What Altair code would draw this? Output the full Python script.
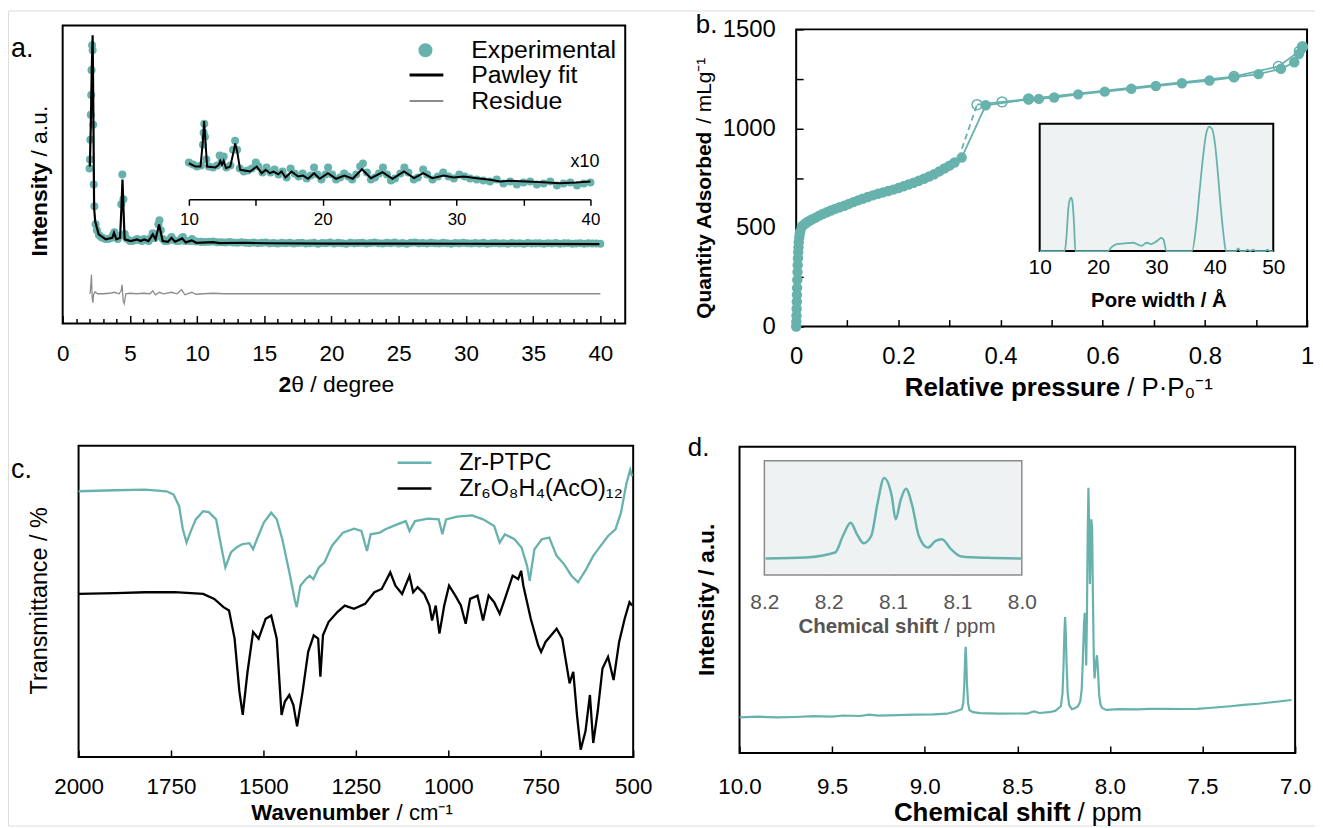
import altair as alt
import pandas as pd

FONT = "Liberation Sans"
TEAL = "#67b2ac"
W, H = 1315, 820

# ---------------- data ----------------
# a. XRD: Pawley fit
xrd_fit_tth = [2.02, 2.10, 2.16, 2.23, 2.29, 2.34, 2.42, 2.68, 3.21, 3.69,
               3.82, 4.00, 4.27, 4.37, 4.45, 4.53, 4.61, 5.06, 5.54, 5.80,
               6.06, 6.38, 6.70, 6.91, 7.17, 7.44, 7.83, 8.10, 8.36, 8.89,
               9.16, 9.60, 9.95, 11.19, 11.67, 13.51, 15.0, 20.0, 25.0, 30.0,
               35.0, 39.93]
xrd_fit_int = [78, 123, 173, 210, 123, 36, 23, 9.7, 4.7, 6.3,
               11.3, 4.7, 6.3, 36, 65, 33, 4.7, 3.0, 4.7, 3.0,
               4.7, 3.0, 9.7, 4.7, 19.7, 3.0, 2.3, 6.3, 2.3, 5.7,
               1.7, 3.7, 1.3, 2.0, 1.0, 1.3, 0.8, 0.5, 0.4, 0.3,
               0.2, 0.0]
# a. XRD: experimental points
xrd_exp_tth = [2.00, 2.03, 2.06, 2.09, 2.12, 2.15, 2.19, 2.23, 2.27, 2.31,
               2.36, 2.45, 2.55, 2.70, 2.85, 3.00, 3.20, 3.40, 3.60, 3.75,
               3.85, 3.95, 4.10, 4.25, 4.36, 4.44, 4.52, 4.62, 4.80, 5.00,
               5.20, 5.40, 5.55, 5.70, 5.90, 6.05, 6.20, 6.40, 6.55, 6.70,
               6.85, 7.00, 7.12, 7.20, 7.30, 7.45, 7.60, 7.80, 8.00, 8.10,
               8.25, 8.45, 8.65, 8.85, 8.95, 9.10, 9.30, 9.50, 9.62, 9.75,
               9.95,
               10.3, 10.6, 10.9, 11.2, 11.5, 11.8, 12.1, 12.4, 12.7, 13.0,
               13.3, 13.6, 13.9, 14.2, 14.5, 14.8, 15.1, 15.4, 15.7, 16.0,
               16.3, 16.6, 16.9, 17.2, 17.5, 17.8, 18.1, 18.4, 18.7, 19.0,
               19.3, 19.6, 19.9, 20.2, 20.5, 20.8, 21.1, 21.4, 21.7, 22.0,
               22.3, 22.6, 22.9, 23.2, 23.5, 23.8, 24.1, 24.4, 24.7, 25.0,
               25.3, 25.6, 25.9, 26.2, 26.5, 26.8, 27.1, 27.4, 27.7, 28.0,
               28.3, 28.6, 28.9, 29.2, 29.5, 29.8, 30.1, 30.4, 30.7, 31.0,
               31.3, 31.6, 31.9, 32.2, 32.5, 32.8, 33.1, 33.4, 33.7, 34.0,
               34.3, 34.6, 34.9, 35.2, 35.5, 35.8, 36.1, 36.4, 36.7, 37.0,
               37.3, 37.6, 37.9, 38.2, 38.5, 38.8, 39.1, 39.4, 39.7, 40.0]
xrd_exp_int = [76, 85, 105, 130, 150, 175, 200, 195, 120, 60,
               38, 20, 14, 9, 7, 6, 5, 5, 6, 9,
               12, 7, 5, 8, 40, 70, 45, 10, 5, 3,
               3, 4, 5, 4, 3, 5, 4, 3, 6, 11,
               6, 8, 20, 24, 14, 5, 3, 3, 5, 7,
               4, 3, 3, 6, 7, 3, 3, 3, 5, 3,
               2.5,
               2.2, 2.0, 2.4, 2.6, 1.8, 1.9, 1.6, 2.0, 1.5, 1.4,
               1.8, 1.3, 1.1, 1.5, 0.9, 1.2, 1.5, 0.7, 1.1, 0.6,
               1.2, 0.8, 1.4, 0.5, 1.0, 1.3, 0.6, 0.9, 1.4, 0.4,
               1.1, 0.8, 1.5, 0.6, 1.2, 0.9, 0.4, 1.3, 0.7, 1.0,
               1.4, 0.5, 1.1, 1.6, 0.8, 0.5, 1.2, 0.9, 1.5, 0.6,
               1.0, 0.4, 1.3, 1.6, 0.7, 1.1, 0.5, 1.4, 0.9, 0.6,
               1.2, 0.8, 0.4, 1.1, 0.7, 1.3, 0.9, 0.5, 1.0, 0.6,
               1.2, 0.4, 0.8, 1.1, 0.5, 0.9, 0.3, 1.0, 0.6, 0.8,
               0.4, 1.1, 0.5, 0.7, 0.9, 0.3, 0.8, 0.5, 1.0, 0.4,
               0.7, 0.9, 0.3, 0.6, 0.8, 0.4, 0.7, 0.5, 0.6, 0.4]
# a. XRD: residue (offset)
xrd_res_tth = [2.00, 2.05, 2.10, 2.14, 2.20, 2.25, 2.30, 2.40, 2.60, 3.00,
               3.50, 3.85, 4.20, 4.35, 4.42, 4.50, 4.58, 4.70, 5.00, 5.50,
               6.00, 6.50, 6.70, 6.90, 7.20, 7.50, 8.10, 8.50, 8.85, 8.95,
               9.10, 9.60, 9.90, 10.5, 11.2, 12.0, 20.0, 30.0, 40.0]
xrd_res_int = [-50, -49, -40, -31, -55, -59, -51, -48, -50, -50,
               -49.5, -48.5, -50, -47, -41, -57, -60, -50, -49.5, -50,
               -49.5, -50, -47, -51, -48.5, -50, -48.5, -50, -46, -48,
               -51, -48.5, -50.5, -50, -49.5, -50, -50, -50, -50]
# a. inset (x10): fit
ins_fit_tth = [10.00, 10.49, 10.87, 11.04, 11.14, 11.24, 11.36, 11.98, 12.23, 12.35,
               12.47, 12.60, 12.77, 13.09, 13.34, 13.46, 13.61, 13.83, 14.58, 15.07,
               15.44, 15.74, 16.06, 16.31, 16.68, 16.92, 17.22, 17.67, 18.16, 18.53,
               18.90, 19.35, 19.77, 20.39, 21.00, 21.62, 22.24, 22.93, 23.60, 24.47,
               25.21, 26.07, 26.82, 27.51, 28.18, 29.04, 29.78, 30.53, 31.52, 32.50,
               33.25, 33.99, 35.22, 36.46, 37.70, 38.93, 40.00]
ins_fit_int = [81.3, 78.0, 78.0, 103.0, 123.7, 103.0, 78.0, 77.0, 79.7, 83.7,
               79.7, 83.7, 76.3, 78.0, 93.0, 101.3, 93.0, 74.7, 73.0, 78.0,
               71.3, 74.7, 71.3, 73.0, 70.3, 73.0, 67.0, 73.0, 68.0, 69.0,
               65.7, 71.3, 65.7, 71.3, 65.7, 69.0, 65.7, 75.3, 66.3, 72.3,
               65.7, 73.0, 66.3, 71.3, 66.3, 69.0, 67.0, 68.0, 66.3, 64.7,
               63.0, 63.7, 63.0, 62.3, 61.3, 62.0, 63.0]
# a. inset (x10): experimental
ins_exp_tth = [10.0, 10.3, 10.6, 10.9, 11.05, 11.1, 11.15, 11.2, 11.3, 11.5,
               11.8, 12.1, 12.3, 12.45, 12.6, 12.8, 13.1, 13.3, 13.45, 13.6,
               13.8, 14.1, 14.4, 14.7, 15.0, 15.2, 15.5, 15.8, 16.1, 16.4,
               16.7, 17.0, 17.3, 17.6, 17.9, 18.2, 18.5, 18.8, 19.1, 19.35,
               19.6, 19.9, 20.2, 20.4, 20.7, 21.0, 21.3, 21.6, 21.9, 22.2,
               22.5, 22.8, 23.0, 23.3, 23.6, 23.9, 24.2, 24.5, 24.8, 25.1,
               25.4, 25.8, 26.1, 26.4, 26.8, 27.1, 27.5, 27.8, 28.2, 28.6,
               29.0, 29.4, 29.8, 30.2, 30.6, 31.0, 31.5, 32.0, 32.5, 33.0,
               33.5, 34.0, 34.5, 35.0, 35.5, 36.0, 36.5, 37.0, 37.5, 38.0,
               38.5, 39.0, 39.5, 40.0]
ins_exp_int = [82, 80, 78, 79, 100, 112, 121, 108, 85, 78,
               77, 79, 89, 84, 88, 77, 79, 95, 104, 95,
               76, 73, 74, 76, 82, 78, 72, 77, 72, 75,
               70, 73, 67, 76, 71, 68, 71, 66, 69, 77,
               70, 65, 70, 77, 70, 65, 67, 71, 68, 65,
               70, 78, 81, 72, 65, 67, 71, 77, 70, 64,
               66, 71, 77, 72, 65, 67, 75, 70, 65, 68,
               72, 68, 66, 70, 68, 66, 65, 64, 63, 65,
               61, 63, 60, 62, 63, 60, 61, 63, 59, 61,
               62, 59, 61, 62]
xrd_legend = ["Experimental", "Pawley fit", "Residue"]

# b. N2 isotherm
ads_p = [0.0, 0.0003, 0.0006, 0.0009, 0.0012, 0.0015, 0.0018, 0.0022, 0.0026, 0.003,
         0.0035, 0.004, 0.0045, 0.005, 0.006, 0.007, 0.008, 0.011, 0.014, 0.018,
         0.022, 0.027, 0.032, 0.038, 0.045, 0.052, 0.06, 0.068, 0.076, 0.085,
         0.094, 0.103, 0.112, 0.121, 0.13, 0.14, 0.15, 0.16, 0.17, 0.18,
         0.19, 0.2, 0.21, 0.22, 0.23, 0.24, 0.25, 0.26, 0.27, 0.28,
         0.29, 0.3, 0.31, 0.324, 0.371, 0.455, 0.475, 0.505, 0.552, 0.604,
         0.656, 0.704, 0.755, 0.809, 0.857, 0.905, 0.949, 0.975, 0.984, 0.991]
ads_q = [0, 25, 55, 90, 125, 160, 195, 235, 275, 310,
         345, 375, 400, 425, 450, 468, 480, 505, 512, 520,
         528, 535, 542, 550, 560, 568, 577, 586, 594, 602,
         610, 619, 628, 637, 645, 654, 662, 670, 677, 684,
         691, 699, 708, 717, 726, 736, 746, 757, 769, 783,
         798, 812, 828, 853, 1117, 1147, 1149, 1156, 1172, 1186,
         1200, 1214, 1228, 1242, 1258, 1274, 1301, 1334, 1376, 1410]
des_p = [0.354, 0.403, 0.455, 0.857, 0.944, 0.985, 0.991]
des_q = [1120, 1134, 1149, 1262, 1313, 1390, 1412]
closure_p = [0.318, 0.354]
closure_q = [850, 1120]
# b. inset pore size distribution
psd_w = [10, 14.3, 14.6, 14.9, 15.2, 15.4, 15.6, 15.9, 16.1, 21.7,
         22.3, 23.2, 24.5, 26.0, 27.4, 28.3, 29.1, 29.8, 30.4, 30.8,
         31.2, 31.7, 36.1, 36.8, 37.4, 38.0, 38.5, 39.05, 39.5, 40.0,
         40.5, 41.0, 41.5, 41.9, 43.6, 44.0, 44.4, 45.2, 45.6, 46.0,
         46.6, 47.0, 48.6, 49.0, 49.4, 50.0]
psd_f = [0, 0, 0.12, 0.33, 0.41, 0.42, 0.39, 0.2, 0, 0,
         0.03, 0.055, 0.06, 0.065, 0.04, 0.065, 0.055, 0.07, 0.09, 0.104,
         0.09, 0, 0, 0.2, 0.48, 0.75, 0.92, 0.977, 0.96, 0.85,
         0.62, 0.35, 0.12, 0, 0, 0.02, 0, 0, 0.01, 0,
         0.01, 0, 0, 0.01, 0, 0]

# c. FTIR
ir_ptpc_wn = [2000, 1900, 1820, 1762, 1743, 1728, 1718, 1708, 1698, 1683,
              1663, 1648, 1628, 1618, 1603, 1588, 1573, 1558, 1538, 1528,
              1514, 1499, 1479, 1464, 1449, 1430, 1415, 1410, 1400, 1385,
              1375, 1365, 1350, 1335, 1315, 1285, 1255, 1235, 1220, 1210,
              1185, 1170, 1145, 1115, 1105, 1090, 1055, 1026, 1016, 1006,
              976, 936, 906, 876, 861, 847, 821, 802, 787, 780,
              767, 747, 727, 707, 687, 667, 649, 627, 608, 588,
              568, 548, 533, 518, 508, 503]
ir_ptpc_t = [267.3, 268.3, 269, 267.3, 264, 252.3, 229, 215.7, 225.7, 239,
             247.3, 246.3, 239, 219, 190.7, 205.7, 210.7, 214, 215, 209,
             222.3, 235.7, 245.7, 239, 219, 185.7, 157.3, 150.7, 172.3, 179,
             182.3, 179, 190.7, 195.7, 212.3, 225.7, 229.7, 227.3, 207.3, 224,
             225.7, 229, 233, 237.3, 227.3, 237.3, 239.7, 239, 224, 239,
             241.7, 243, 239, 232.3, 215.7, 224, 219, 210.7, 192.3, 177.3,
             209, 219, 220.7, 202.3, 194, 182.3, 175.7, 189, 202.3, 212.3,
             222.3, 229, 245.7, 275.7, 289, 282.3]
ir_zr_wn = [2000, 1900, 1820, 1740, 1663, 1633, 1608, 1593, 1578, 1565,
            1556, 1543, 1528, 1513, 1494, 1479, 1464, 1451, 1442, 1430,
            1419, 1409, 1394, 1379, 1364, 1352, 1346, 1339, 1324, 1300,
            1280, 1255, 1225, 1200, 1180, 1157, 1143, 1125, 1105, 1095,
            1083, 1065, 1051, 1044, 1034, 1024, 1011, 998, 981, 966,
            953, 941, 921, 906, 891, 876, 861, 847, 826, 811,
            803, 797, 777, 757, 749, 737, 707, 692, 672, 662,
            652, 642, 629, 617, 608, 596, 583, 568, 553, 538,
            523, 510, 503]
ir_zr_t = [164, 164.7, 165.7, 165.7, 164, 159, 150.7, 147.3, 119, 65.7,
           42.3, 85.7, 125.7, 119, 139, 142.3, 119, 42.3, 55.7, 62.3,
           52.3, 30.7, 65.7, 105.7, 122.3, 119, 80.7, 122.3, 135.7, 145.7,
           152.3, 149, 154, 165.7, 169, 185.7, 172.3, 164, 182.3, 165.7,
           170.7, 164, 152.3, 137.3, 152.3, 124, 152.3, 172.3, 162.3, 152.3,
           134, 159, 162.3, 137.3, 162.3, 155.7, 144, 159, 182.3, 179,
           187.3, 172.3, 139, 112.3, 105.7, 115.7, 129, 119, 74, 85.7,
           42.3, 7.3, 25.7, 62.3, 14, 45.7, 89, 100.7, 77.3, 115.7,
           139, 155.7, 152.3]
ir_legend = ["Zr-PTPC", "Zr\u2086O\u2088H\u2084(AcO)\u2081\u2082"]

# d. 1H NMR
nmr_ppm = [10.0, 9.9, 9.8, 9.7, 9.6, 9.5, 9.44, 9.35, 9.3, 9.25,
           9.15, 9.05, 8.95, 8.88, 8.83, 8.80, 8.792, 8.786, 8.782, 8.779,
           8.776, 8.772, 8.766, 8.758, 8.74, 8.7, 8.6, 8.49, 8.45, 8.41,
           8.38, 8.33, 8.295, 8.265, 8.256, 8.25, 8.246, 8.242, 8.238, 8.234,
           8.228, 8.22, 8.205, 8.19, 8.172, 8.16, 8.152, 8.146, 8.14, 8.136,
           8.132, 8.128, 8.124, 8.12, 8.116, 8.112, 8.108, 8.104, 8.1, 8.096,
           8.092, 8.087, 8.083, 8.076, 8.07, 8.065, 8.058, 8.05, 8.04, 8.02,
           7.95, 7.85, 7.79, 7.7, 7.6, 7.53, 7.45, 7.35, 7.28, 7.2,
           7.1, 7.02]
nmr_int = [35.7, 36.5, 35.8, 36.2, 37, 36.5, 37.7, 37.2, 38.5, 37.5,
           38, 38.5, 38.8, 39.5, 42, 44, 50, 70, 95, 106.7,
           95, 70, 50, 43, 41, 40, 39.5, 39.7, 39.5, 41.7,
           40.2, 41, 42.3, 47, 60, 90, 120, 136.7, 120, 90,
           60, 48, 44, 45, 47, 52, 65, 95, 130, 141,
           120, 88, 140, 220, 266.7, 230, 170, 200, 235, 225,
           160, 95, 75, 90, 98.3, 85, 58, 48, 45, 43.3,
           44, 43.8, 44.3, 44.5, 44.2, 44.3, 45.5, 47, 48.3, 49.5,
           51.5, 53.3]
nmr_ins_ppm = [8.199, 8.168, 8.145, 8.139, 8.133, 8.128, 8.123, 8.117, 8.112, 8.107,
               8.101, 8.098, 8.094, 8.090, 8.085, 8.080, 8.073, 8.067, 8.062, 8.055,
               8.047, 8.027, 8.0]
nmr_ins_int = [16.7, 17.7, 22.7, 39.3, 52.7, 41, 32, 39.3, 72.7, 97.7,
               79.3, 56, 76, 86.7, 69.3, 39.3, 27.7, 34.3, 36, 26,
               18.7, 17.3, 16.7]

# tick values
a_minor = list(range(0, 42))
a_major = [0, 5, 10, 15, 20, 25, 30, 35, 40]
a_inset_ticks = [10, 15, 20, 25, 30, 35, 40]
b_xticks = [0, 0.1, 0.2, 0.3, 0.4, 0.5, 0.6, 0.7, 0.8, 0.9, 1.0]
b_xlabels = [0, 0.2, 0.4, 0.6, 0.8, 1.0]
b_yticks = [0, 250, 500, 750, 1000, 1250, 1500]
b_ylabels = [0, 500, 1000, 1500]
b_inset_labels = [10, 20, 30, 40, 50]
c_ticks = [2000, 1750, 1500, 1250, 1000, 750, 500]
d_ticks = [10.0, 9.5, 9.0, 8.5, 8.0, 7.5, 7.0]
d_inset_ticks = [8.2, 8.15, 8.1, 8.05, 8.0]


# ---------------- helpers ----------------
def lin(dom, rng, rev=False):
    kw = dict(domain=dom, range=rng, nice=False, zero=False)
    if rev:
        kw["reverse"] = True
    return alt.Scale(**kw)


def tick_axis(orient, offset, values, size, color="black"):
    return alt.Axis(orient=orient, offset=offset, values=values, labels=False,
                    domain=False, ticks=True, tickSize=size, tickWidth=1.5,
                    tickColor=color, grid=False, title=None)


def label_axis(orient, offset, values, pad, fs, fmt=None, color="black"):
    kw = dict(orient=orient, offset=offset, values=values, labels=True,
              domain=False, ticks=False, grid=False, title=None,
              labelPadding=pad, labelFontSize=fs, labelFont=FONT,
              labelColor=color, labelFlush=False, labelOverlap=False,
              labelAlign="right" if orient == "left" else "center")
    if fmt:
        kw["format"] = fmt
    return alt.Axis(**kw)


def frame(xs, ys, xdom, ydom, stroke="black", sw=2, fill=None, xaxis=None, yaxis=None):
    df = pd.DataFrame({"x0": [xdom[0]], "x1": [xdom[1]], "y0": [ydom[0]], "y1": [ydom[1]]})
    mk = dict(stroke=stroke, strokeWidth=sw)
    if fill:
        mk["fill"] = fill
        mk["fillOpacity"] = 1
    else:
        mk["fillOpacity"] = 0
    return alt.Chart(df).mark_rect(**mk).encode(
        x=alt.X("x0:Q", scale=xs, axis=xaxis), x2="x1",
        y=alt.Y("y0:Q", scale=ys, axis=yaxis), y2="y1")


def series(xv, yv, xs, ys, xaxis=None, yaxis=None):
    df = pd.DataFrame({"x": xv, "y": yv})
    return alt.Chart(df), dict(x=alt.X("x:Q", scale=xs, axis=xaxis),
                               y=alt.Y("y:Q", scale=ys, axis=yaxis))


def txt(text, x, y, size, weight="normal", align="left", angle=0,
        color="black", baseline="middle"):
    kw = dict(fontSize=size, fontWeight=weight, align=align, baseline=baseline,
              color=color, font=FONT)
    if angle:
        kw["angle"] = angle
    return alt.Chart(pd.DataFrame({"t": [text]})).mark_text(**kw).encode(
        text="t:N", x=alt.value(x), y=alt.value(y))


layers = []

# ---------------- panel a ----------------
A_XS = lin([0, 41.85], [55, 621])
A_YS = lin([-80, 220], [315, 15])
AI_XS = lin([10, 40], [182, 586])
a_ticksize = {"condition": {"test": "datum.value % 5 === 0", "value": 8}, "value": 5}
layers.append(frame(A_XS, A_YS, [0, 41.85], [-80, 220],
                    xaxis=tick_axis("top", -315, a_minor, a_ticksize)))
c, e = series(xrd_exp_tth, xrd_exp_int, A_XS, A_YS,
              xaxis=label_axis("bottom", 315 - H, a_major, 19.3, 22.5))
layers.append(c.mark_circle(size=65, color=TEAL, opacity=1).encode(**e))
c, e = series(xrd_fit_tth, xrd_fit_int, A_XS, A_YS)
layers.append(c.mark_line(color="black", strokeWidth=2.2).encode(**e))
c, e = series(xrd_res_tth, xrd_res_int, A_XS, A_YS)
layers.append(c.mark_line(color="#8c8c8c", strokeWidth=1.3).encode(**e))
inset_axis = alt.Axis(orient="bottom", offset=190 - H, values=a_inset_ticks,
                      domain=True, domainColor="black", domainWidth=1.5,
                      ticks=True, tickSize=6, tickWidth=1.5, tickColor="black",
                      labelPadding=6.5, labelFontSize=17, labelFont=FONT,
                      labelColor="black", labelFlush=False, labelOverlap=False,
                      labelAlign="center",
                      labelExpr="datum.value % 10 === 0 ? datum.label : ''",
                      grid=False, title=None)
c, e = series(ins_exp_tth, ins_exp_int, AI_XS, A_YS, xaxis=inset_axis)
layers.append(c.mark_circle(size=65, color=TEAL, opacity=1).encode(**e))
c, e = series(ins_fit_tth, ins_fit_int, AI_XS, A_YS)
layers.append(c.mark_line(color="black", strokeWidth=2).encode(**e))

# ---------------- panel b ----------------
B_XS = lin([0, 1], [793, 1307])
B_YS = lin([0, 1500], [318, 19])
BI_XS = lin([10, 50], [1038, 1273])
BI_YS = lin([0, 1], [242, 114])
layers.append(frame(B_XS, B_YS, [0, 1], [0, 1500],
                    xaxis=tick_axis("top", -318, b_xticks, 7),
                    yaxis=tick_axis("right", 793 - W, b_yticks, 7)))
c, e = series(ads_p, ads_q, B_XS, B_YS)
layers.append(c.mark_line(color=TEAL, strokeWidth=1.8).encode(**e))
c, e = series(des_p, des_q, B_XS, B_YS)
layers.append(c.mark_line(color=TEAL, strokeWidth=1.8).encode(**e))
c, e = series(closure_p, closure_q, B_XS, B_YS)
layers.append(c.mark_line(color=TEAL, strokeWidth=1.8, strokeDash=[6, 4]).encode(**e))
c, e = series(ads_p, ads_q, B_XS, B_YS,
              xaxis=label_axis("bottom", 318 - H, b_xlabels, 18.6, 24, fmt="~g"),
              yaxis=label_axis("left", -793, b_ylabels, 21, 24, fmt="d"))
layers.append(c.mark_circle(size=110, color=TEAL, opacity=1).encode(**e))
c, e = series(des_p, des_q, B_XS, B_YS)
layers.append(c.mark_point(size=100, color=TEAL, filled=False, strokeWidth=1.5,
                           opacity=1).encode(**e))
layers.append(frame(BI_XS, BI_YS, [10, 50], [0, 1], fill="#eef2f3"))
c, e = series(psd_w, psd_f, BI_XS, BI_YS,
              xaxis=label_axis("bottom", 242 - H, b_inset_labels, 6, 21))
layers.append(c.mark_line(color=TEAL, strokeWidth=1.8, interpolate="monotone").encode(**e))

# ---------------- panel c ----------------
C_XS = lin([500, 2000], [71, 629], rev=True)
C_YS = lin([0, 313], [751, 438])
layers.append(frame(C_XS, C_YS, [500, 2000], [0, 313],
                    xaxis=tick_axis("top", -751, c_ticks, 7)))
c, e = series(ir_ptpc_wn, ir_ptpc_t, C_XS, C_YS,
              xaxis=label_axis("bottom", 751 - H, c_ticks, 19.3, 22.5, fmt="d"))
layers.append(c.mark_line(color=TEAL, strokeWidth=2.3).encode(**e))
c, e = series(ir_zr_wn, ir_zr_t, C_XS, C_YS)
layers.append(c.mark_line(color="black", strokeWidth=2.3).encode(**e))

# ---------------- panel d ----------------
D_XS = lin([7, 10], [736, 1295], rev=True)
D_YS = lin([0, 308], [747, 439])
DI_XS = lin([8.0, 8.2], [761, 1020], rev=True)
DI_YS = lin([0, 115], [568, 453])
layers.append(frame(D_XS, D_YS, [7, 10], [0, 308],
                    xaxis=tick_axis("top", -747, d_ticks, 7)))
c, e = series(nmr_ppm, nmr_int, D_XS, D_YS,
              xaxis=label_axis("bottom", 747 - H, d_ticks, 22.3, 22.5, fmt=".1f"))
layers.append(c.mark_line(color=TEAL, strokeWidth=2.2).encode(**e))
layers.append(frame(DI_XS, DI_YS, [8.0, 8.2], [0, 115], stroke="#8a8a8a", sw=1.5,
                    fill="#eef2f3",
                    xaxis=tick_axis("top", -568, [8.15, 8.1, 8.05], 7, color="#8a8a8a")))
c, e = series(nmr_ins_ppm, nmr_ins_int, DI_XS, DI_YS,
              xaxis=label_axis("bottom", 568 - H, d_inset_ticks, 16.6, 21, fmt=".1f",
                               color="#555555"))
layers.append(c.mark_line(color=TEAL, strokeWidth=2.5, interpolate="monotone").encode(**e))

# ---------------- legends ----------------
one = pd.DataFrame({"k": [0]})
layers.append(alt.Chart(one).mark_circle(size=200, color=TEAL, opacity=1).encode(
    x=alt.value(420), y=alt.value(40)))
layers.append(alt.Chart(one).mark_rule(color="black", strokeWidth=3).encode(
    x=alt.value(404), x2=alt.value(438), y=alt.value(65)))
layers.append(alt.Chart(one).mark_rule(color="#8c8c8c", strokeWidth=2).encode(
    x=alt.value(404), x2=alt.value(438), y=alt.value(91)))
layers.append(txt(xrd_legend[0], 466, 40, 25))
layers.append(txt(xrd_legend[1], 466, 65, 25))
layers.append(txt(xrd_legend[2], 466, 91, 25))
layers.append(alt.Chart(one).mark_rule(color=TEAL, strokeWidth=2.5).encode(
    x=alt.value(392), x2=alt.value(426), y=alt.value(455)))
layers.append(alt.Chart(one).mark_rule(color="black", strokeWidth=2.5).encode(
    x=alt.value(392), x2=alt.value(426), y=alt.value(481)))
layers.append(txt(ir_legend[0], 454, 455, 23.5))
layers.append(txt(ir_legend[1], 454, 481, 23.5))

# ---------------- texts ----------------
layers += [
    txt("a.", 3, 47, 27, baseline="alphabetic"),
    txt("b.", 692, 23, 26, baseline="alphabetic"),
    txt("c.", 3, 470, 27, baseline="alphabetic"),
    txt("d.", 684, 448, 26, baseline="alphabetic"),
    txt("x10", 595, 152, 18, align="right"),
    # panel a titles
    txt("2", 285, 377, 23, weight="bold", align="right"),
    txt("\u03b8 / degree", 285, 377, 23),
    txt("Intensity", 32, 153, 23, weight="bold", align="right", angle=270),
    txt("/ a.u.", 32, 147, 23, align="left", angle=270),
    # panel b titles
    txt("Relative pressure", 1119, 380, 26, weight="bold", align="right"),
    txt("/ P\u00b7P\u2080\u207b\u00b9", 1126, 380, 26),
    txt("Quantity Adsorbed", 701, 122, 21, weight="bold", align="right", angle=270),
    txt("/ mLg\u207b\u00b9", 701, 114, 21, align="left", angle=270),
    txt("Pore width / \u00c5", 1158, 292, 20.5, weight="bold", align="center"),
    # panel c titles
    txt("Wavenumber", 384, 807, 22.3, weight="bold", align="right"),
    txt("/ cm\u207b\u00b9", 391, 807, 22.3),
    txt("Transmittance / %", 32, 594, 23.5, align="center", angle=270),
    # panel d titles
    txt("Chemical shift", 1069, 807, 26, weight="bold", align="right"),
    txt("/ ppm", 1076, 807, 26),
    txt("Intensity / a.u.", 703, 593, 23, weight="bold", align="center", angle=270),
    txt("Chemical shift", 936, 620, 20.6, weight="bold", align="right", color="#555555"),
    txt("/ ppm", 942, 620, 20.6, color="#555555"),
]

chart = alt.layer(*layers).resolve_scale(x="independent", y="independent").properties(
    width=W, height=H, padding=0, autosize=alt.AutoSizeParams(type="none")
).configure_view(strokeWidth=0).configure(font=FONT)

chart.save("out.html", embed_options={"renderer": "svg", "actions": False})
